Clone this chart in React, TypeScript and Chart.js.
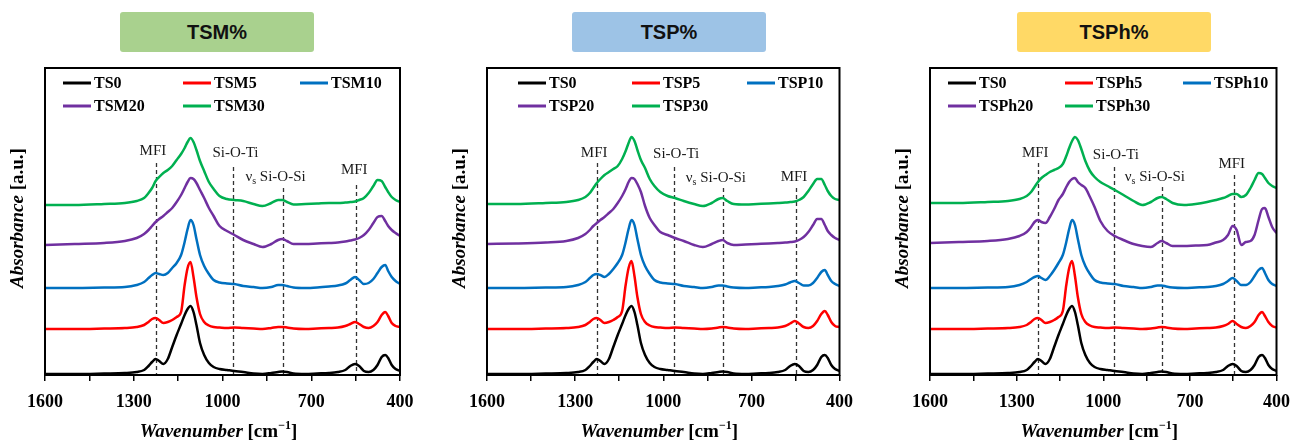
import React, { useEffect, useRef } from 'react';
import { Chart, registerables } from 'chart.js';

Chart.register(...registerables);

// ---------- DATA ----------
const wavenumbers = [1600, 1500, 1400, 1330, 1290, 1265, 1250, 1238, 1226, 1214, 1200, 1185, 1170, 1155, 1140, 1128, 1118, 1108, 1098, 1088, 1076, 1062, 1046, 1030, 1010, 985, 960, 930, 895, 865, 835, 812, 798, 782, 760, 720, 680, 640, 610, 585, 568, 552, 538, 522, 506, 490, 476, 462, 450, 440, 428, 415, 400];

const TS0 = [1, 1, 1.5, 2, 3, 5, 9, 13, 16, 14, 11, 16, 28, 40, 51, 60, 66, 69, 63, 50, 32, 20, 12, 8, 6, 5, 4, 3, 1.5, 1, 2, 3, 3.5, 3, 1.5, 1, 1.5, 2, 3, 5, 9, 11, 9, 4, 3, 5, 10, 18, 20, 17, 10, 6, 4];

const TSM5 = [46, 46, 46.5, 47, 48, 50, 53, 56, 57, 55, 52, 53, 55, 58, 63, 90, 107, 113, 98, 78, 61, 53, 49.5, 48, 47.5, 47, 47.5, 47, 46.5, 46, 47, 48, 48, 47.5, 46.5, 46, 46.5, 47, 47.5, 49, 51, 53, 51, 48, 47, 49, 53, 60, 63, 59, 52, 49, 48];
const TSM10 = [87, 87, 87.5, 88, 90, 93, 97, 100, 102, 101, 100, 102, 107, 112, 120, 133, 146, 155, 150, 136, 120, 109, 101, 95, 92.5, 91.5, 91, 89, 88, 87, 88, 90, 90, 89, 87.5, 87, 87.5, 88.5, 89.5, 91.5, 95, 98, 95, 91, 92, 96, 102, 108, 110, 104, 98, 94, 91];
const TSM20 = [130, 131, 132, 134, 137, 141, 145, 149, 153, 156, 159, 163, 167, 173, 180, 187, 193, 197, 196, 192, 185, 177, 167, 159, 149, 144, 140, 135, 131, 128, 131, 135, 136, 134, 131, 131, 131.5, 132, 132.5, 133.5, 134.5, 135.5, 137, 140, 145, 152, 158, 159, 154, 149, 145, 142, 139];
const TSM30 = [170, 170, 171, 172, 174, 177, 182, 187, 194, 198, 202, 205, 209, 215, 221, 227, 233, 237, 233, 225, 214, 204, 193, 186, 179, 176, 175, 174, 171, 169, 172, 175, 175, 173, 170.5, 171, 171.5, 172, 172, 172.5, 173, 173.5, 175, 177, 182, 189, 195, 194, 188, 183, 178, 175, 173];

const TSP5 = [46, 46, 46.5, 47, 48, 50, 53, 56, 57, 55, 52, 53, 55, 58, 64, 90, 107, 114, 99, 78, 61, 53, 49.5, 48, 47.5, 47, 47.5, 47, 46.5, 46, 46.5, 47.5, 48, 47.5, 46.5, 46, 46.5, 47, 47.5, 49, 51.5, 54, 51.5, 48, 47, 49, 54, 61, 64, 60, 53, 49, 48];
const TSP10 = [87, 87, 87.5, 88, 90, 93, 97, 100, 101, 100, 98, 101, 106, 112, 120, 133, 146, 155, 150, 136, 120, 109, 101, 95, 92.5, 91.5, 91, 89, 88, 87, 88, 89.5, 89.5, 88.5, 87.5, 87, 87.5, 88, 89, 90.5, 92.5, 94, 92, 89.5, 89.5, 92, 97, 103, 105, 100, 94, 91, 89];
const TSP20 = [131, 131.5, 132.5, 134, 137, 141, 145, 149, 152, 155, 158, 162, 166, 172, 179, 186, 193, 197, 196, 191, 183, 169, 157, 150, 143, 140, 137, 134, 130, 128, 131, 134, 135, 132, 130, 130.5, 131, 131.5, 132, 132.5, 133, 133.5, 135, 138, 143, 150, 156, 156, 150, 144, 140, 137, 135];
const TSP30 = [171, 171, 172, 173, 175, 178, 182, 187, 192, 196, 200, 203, 206, 209, 216, 224, 232, 238, 234, 225, 215, 207, 196, 189, 183, 179, 177, 174, 171, 169, 172, 176, 177, 174, 171, 170.5, 171, 171.5, 172, 172.5, 173, 173.5, 175, 178, 184, 191, 196, 196, 190, 184, 179, 176, 175];

const TSPh5 = [46, 46, 46.5, 47, 48, 50, 53, 56, 57, 55, 52, 53, 55, 58, 64, 90, 107, 114, 99, 78, 61, 53, 49.5, 48, 47.5, 47, 47.5, 47, 46.5, 46, 46.5, 47.5, 48, 47.5, 46.5, 46, 46.5, 47, 47.5, 49, 51, 54, 51, 48, 47, 49, 53, 60, 63, 59, 53, 49, 47.5];
const TSPh10 = [87, 87, 87.5, 88, 90, 93, 96, 98, 99, 97, 95, 99, 105, 112, 120, 133, 146, 155, 150, 136, 120, 109, 101, 95, 92.5, 91.5, 91, 89, 88, 87, 88, 89.5, 89.5, 88.5, 87.5, 87, 87.5, 88, 89, 91, 94, 97, 94, 90, 90, 93, 99, 105, 107, 102, 95, 91, 89];
const TSPh20 = [132, 133, 134, 136, 139, 143, 148, 153, 155, 153, 152, 158, 166, 175, 181, 188, 193, 196, 197, 193, 190, 187, 178, 168, 154, 144, 139, 135, 131, 129, 128, 132, 134, 132, 129, 129, 129.5, 130, 132.5, 135, 140, 149, 145, 130, 133, 134, 140, 155, 166, 167, 158, 148, 142];
const TSPh30 = [172, 172, 173, 174, 176, 179, 183, 188, 193, 197, 200, 203, 205, 207, 211, 219, 227, 234, 238, 235, 226, 214, 204, 198, 193, 189, 185, 180, 174, 170, 173, 177, 178, 176, 172, 170, 171, 173, 175, 177, 179, 181, 181, 178, 180, 187, 195, 202, 201, 197, 192, 189, 187];

const tsmLabels = ['TS0', 'TSM5', 'TSM10', 'TSM20', 'TSM30'];
const tspLabels = ['TS0', 'TSP5', 'TSP10', 'TSP20', 'TSP30'];
const tsphLabels = ['TS0', 'TSPh5', 'TSPh10', 'TSPh20', 'TSPh30'];
const panelTitles = ['TSM%', 'TSP%', 'TSPh%'];

const xTickLabels = [1600, 1300, 1000, 700, 400];
const bandWavenumbers = [1225, 963, 797, 548];
const bandLabels = ['MFI', 'Si-O-Ti', 'νs Si-O-Si', 'MFI'];

// ---------- STYLE / LAYOUT ----------
const seriesColors = ['#000000', '#ff0000', '#0070c0', '#7030a0', '#00b050'];
const titleColors = ['#a9d18e', '#9dc3e6', '#ffd966'];
const SERIF = '"Liberation Serif", "Times New Roman", serif';

const layouts = [
  { x0: 0, w: 432, left: 45, right: 400, titleLeft: 120, legendCols: [18, 138, 255], bandTops: [212, 208, 187, 190], bandLabelY: [224, 222, 198, 205] },
  { x0: 432, w: 432, left: 487, right: 843, titleLeft: 572, legendCols: [31, 145, 260], bandTops: [212, 208, 187, 187], bandLabelY: [222, 221, 197, 198] },
  { x0: 864, w: 437, left: 930, right: 1285, titleLeft: 1017, legendCols: [18, 135, 253], bandTops: [212, 208, 188, 200], bandLabelY: [222, 220, 198, 211] },
];
const bandLabelDx = [-3, 2, -7, -2];
const H = 442;
const TOP = 68;
const BOTTOM = 375;

type Part = { t: string; font: string; dy?: number };

function drawParts(ctx: CanvasRenderingContext2D, parts: Part[], cx: number, cy: number) {
  let total = 0;
  parts.forEach((p) => {
    ctx.font = p.font;
    total += ctx.measureText(p.t).width;
  });
  let x = cx - total / 2;
  ctx.textAlign = 'left';
  ctx.textBaseline = 'middle';
  parts.forEach((p) => {
    ctx.font = p.font;
    ctx.fillText(p.t, x, cy + (p.dy || 0));
    x += ctx.measureText(p.t).width;
  });
}

function bandParts(label: string): Part[] {
  const f = `15px ${SERIF}`;
  if (label.startsWith('νs ')) {
    return [
      { t: 'ν', font: f },
      { t: 's', font: `10px ${SERIF}`, dy: 4 },
      { t: label.slice(2), font: f },
    ];
  }
  return [{ t: label, font: f }];
}

function makeDecor(lay: typeof layouts[number]) {
  return {
    id: 'decor',
    beforeDatasetsDraw(chart: any) {
      const { ctx, chartArea, scales } = chart;
      const x = scales.x;
      const y = scales.y;
      ctx.save();
      ctx.setLineDash([4, 3]);
      ctx.strokeStyle = '#333333';
      ctx.lineWidth = 1.3;
      bandWavenumbers.forEach((w, i) => {
        const px = Math.round(x.getPixelForValue(w)) + 0.5;
        ctx.beginPath();
        ctx.moveTo(px, y.getPixelForValue(lay.bandTops[i]));
        ctx.lineTo(px, chartArea.bottom);
        ctx.stroke();
      });
      ctx.restore();
    },
    afterDraw(chart: any) {
      const { ctx, chartArea, scales } = chart;
      const x = scales.x;
      const y = scales.y;
      ctx.save();
      // band labels
      ctx.fillStyle = '#1a1a1a';
      bandWavenumbers.forEach((w, i) => {
        drawParts(ctx, bandParts(bandLabels[i]), x.getPixelForValue(w) + bandLabelDx[i], y.getPixelForValue(lay.bandLabelY[i]));
      });
      // frame
      ctx.strokeStyle = '#000';
      ctx.lineWidth = 2;
      ctx.setLineDash([]);
      ctx.strokeRect(chartArea.left, chartArea.top, chartArea.right - chartArea.left, chartArea.bottom - chartArea.top);
      // legend
      const rowsY = [chartArea.top + 15, chartArea.top + 38];
      chart.data.datasets.forEach((ds: any, i: number) => {
        const row = i < 3 ? 0 : 1;
        const col = i % 3;
        const lx = chartArea.left + lay.legendCols[col];
        const ly = rowsY[row];
        ctx.strokeStyle = ds.borderColor;
        ctx.lineWidth = 3;
        ctx.beginPath();
        ctx.moveTo(lx, ly);
        ctx.lineTo(lx + 28, ly);
        ctx.stroke();
        ctx.fillStyle = '#000';
        ctx.font = `bold 16px ${SERIF}`;
        ctx.textAlign = 'left';
        ctx.textBaseline = 'middle';
        ctx.fillText(ds.label, lx + 31, ly + 1);
      });
      // x title
      ctx.fillStyle = '#000';
      const cx = (chartArea.left + chartArea.right) / 2 - 4;
      drawParts(ctx, [
        { t: 'Wavenumber', font: `italic bold 19px ${SERIF}` },
        { t: ' [cm', font: `bold 19px ${SERIF}` },
        { t: '−1', font: `bold 12px ${SERIF}`, dy: -6 },
        { t: ']', font: `bold 19px ${SERIF}` },
      ], cx, 432);
      // y title
      ctx.save();
      ctx.translate(chartArea.left - 27, 218);
      ctx.rotate(-Math.PI / 2);
      drawParts(ctx, [
        { t: 'Absorbance', font: `italic bold 19px ${SERIF}` },
        { t: ' [a.u.]', font: `bold 19px ${SERIF}` },
      ], 0, 0);
      ctx.restore();
      ctx.restore();
    },
  };
}

const panelSeries = [
  { labels: tsmLabels, values: [TS0, TSM5, TSM10, TSM20, TSM30] },
  { labels: tspLabels, values: [TS0, TSP5, TSP10, TSP20, TSP30] },
  { labels: tsphLabels, values: [TS0, TSPh5, TSPh10, TSPh20, TSPh30] },
];

function Panel({ idx }: { idx: number }) {
  const ref = useRef<HTMLCanvasElement | null>(null);
  const lay = layouts[idx];
  useEffect(() => {
    if (!ref.current) return;
    const ps = panelSeries[idx];
    const chart = new Chart(ref.current, {
      type: 'line',
      data: {
        datasets: ps.values.map((vals, i) => ({
          label: ps.labels[i],
          data: wavenumbers.map((w, j) => ({ x: w, y: vals[j] })),
          borderColor: seriesColors[i],
          backgroundColor: seriesColors[i],
          borderWidth: 2.5,
          pointRadius: 0,
          cubicInterpolationMode: 'monotone' as const,
          fill: false,
        })),
      },
      options: {
        animation: false,
        responsive: false,
        devicePixelRatio: 1,
        events: [],
        layout: { padding: { left: lay.left - lay.x0, right: lay.x0 + lay.w - lay.right, top: TOP, bottom: 0 } },
        plugins: { legend: { display: false }, tooltip: { enabled: false }, title: { display: false } },
        scales: {
          x: {
            type: 'linear',
            reverse: true,
            min: 400,
            max: 1600,
            ticks: {
              stepSize: 150,
              autoSkip: false,
              maxRotation: 0,
              minRotation: 0,
              padding: 11,
              color: '#000',
              font: { family: SERIF, weight: 'bold', size: 18 },
              callback: (v: any) => (xTickLabels.includes(Number(v)) ? String(v) : ''),
            },
            grid: { display: true, drawOnChartArea: false, drawTicks: true, tickLength: 6, color: '#000', lineWidth: 1.5 },
            border: { display: false },
            afterFit: (s: any) => {
              s.height = H - BOTTOM;
            },
          },
          y: { display: false, min: 0, max: BOTTOM - TOP },
        },
      },
      plugins: [makeDecor(lay)],
    } as any);
    return () => chart.destroy();
  }, [idx]);
  return (
    <canvas
      ref={ref}
      width={lay.w}
      height={H}
      style={{ position: 'absolute', left: lay.x0, top: 0, width: lay.w, height: H }}
    />
  );
}

export default function App() {
  useEffect(() => {
    document.body.style.margin = '0';
    document.body.style.background = '#ffffff';
  }, []);
  return (
    <div style={{ position: 'relative', width: 1301, height: H, background: '#fff', overflow: 'hidden' }}>
      {panelTitles.map((t, i) => (
        <div
          key={t}
          style={{
            position: 'absolute',
            left: layouts[i].titleLeft,
            top: 12,
            width: 194,
            height: 40,
            background: titleColors[i],
            borderRadius: 3,
            display: 'flex',
            alignItems: 'center',
            justifyContent: 'center',
            fontFamily: '"Liberation Sans", Arial, sans-serif',
            fontWeight: 'bold',
            fontSize: 20,
            color: '#111',
          }}
        >
          {t}
        </div>
      ))}
      {[0, 1, 2].map((i) => (
        <Panel key={i} idx={i} />
      ))}
    </div>
  );
}
